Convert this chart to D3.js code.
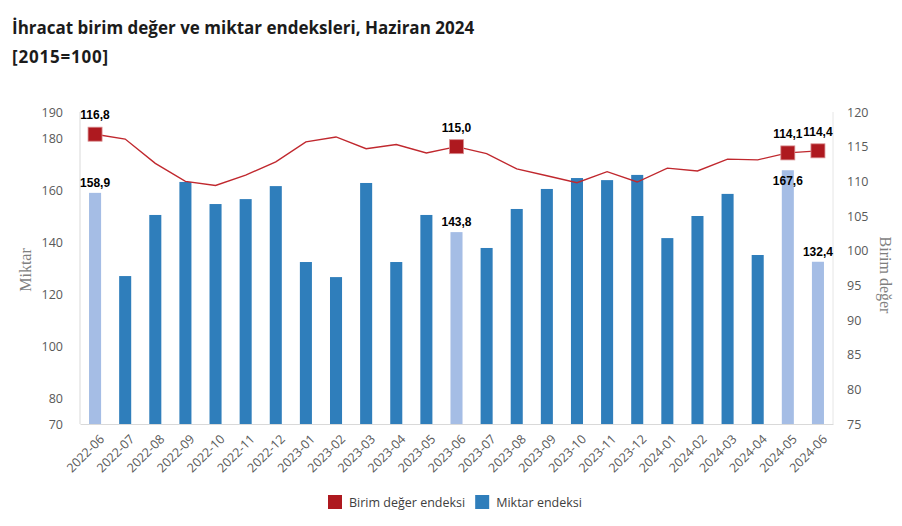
<!DOCTYPE html>
<html>
<head>
<meta charset="utf-8">
<script src="https://cdn.jsdelivr.net/npm/d3@7"></script>
<style>
    body { margin: 0; background: #fff; }
    svg { display: block; }
</style>
</head>
<body>
<div id="chart"></div>
<script>
// data
const months = ['2022-06', '2022-07', '2022-08', '2022-09', '2022-10', '2022-11', '2022-12',
    '2023-01', '2023-02', '2023-03', '2023-04', '2023-05', '2023-06', '2023-07', '2023-08',
    '2023-09', '2023-10', '2023-11', '2023-12', '2024-01', '2024-02', '2024-03', '2024-04',
    '2024-05', '2024-06'];
const miktar = [158.9, 126.9, 150.4, 163.1, 154.6, 156.5, 161.5, 132.3, 126.5, 162.7, 132.3,
    150.4, 143.8, 137.7, 152.7, 160.4, 164.6, 163.8, 165.8, 141.5, 150.0, 158.5, 135.0,
    167.6, 132.4];
const birimDeger = [116.8, 116.1, 112.6, 110.0, 109.4, 110.9, 112.8, 115.7, 116.4, 114.7, 115.3,
    114.1, 115.0, 114.0, 111.8, 110.8, 109.8, 111.4, 109.9, 111.9, 111.5, 113.2, 113.1,
    114.1, 114.4];
const highlighted = ['2022-06', '2023-06', '2024-05', '2024-06'];
const leftTicks = [70, 80, 100, 120, 140, 160, 180, 190];
const rightTicks = [75, 80, 85, 90, 95, 100, 105, 110, 115, 120];

const W = 902, H = 526;
const margin = {top: 112, right: 69, bottom: 102, left: 80};
const width = W - margin.left - margin.right;
const height = H - margin.top - margin.bottom;

const svg = d3.select('#chart').append('svg')
    .attr('width', W)
    .attr('height', H);

const fmt = v => v.toFixed(1).replace('.', ',');
const tickFont = '"Open Sans", "Noto Sans", sans-serif';

// title
svg.append('text')
    .attr('x', 12).attr('y', 34)
    .attr('font-family', tickFont)
    .attr('font-weight', 'bold')
    .attr('font-size', 17)
    .attr('fill', '#1b1b1b')
    .text('İhracat birim değer ve miktar endeksleri, Haziran 2024');
svg.append('text')
    .attr('x', 12).attr('y', 63)
    .attr('font-family', tickFont)
    .attr('font-weight', 'bold')
    .attr('font-size', 17)
    .attr('letter-spacing', 0.8)
    .attr('fill', '#1b1b1b')
    .text('[2015=100]');

const g = svg.append('g')
    .attr('transform', `translate(${margin.left}, ${margin.top})`);

const x = d3.scaleBand()
    .domain(months)
    .range([0, width])
    .paddingInner(0.6)
    .paddingOuter(0.3);
const yL = d3.scaleLinear().domain([70, 190]).range([height, 0]);
const yR = d3.scaleLinear().domain([75, 120]).range([height, 0]);
const cx = d => x(d) + x.bandwidth() / 2;

// frame lines
g.append('line')
    .attr('x1', 0).attr('x2', 0).attr('y1', 0).attr('y2', height)
    .attr('stroke', '#d9d9d9');
g.append('line')
    .attr('x1', width).attr('x2', width).attr('y1', 0).attr('y2', height)
    .attr('stroke', '#e6e6e6');

// left axis
const axL = g.append('g')
    .call(d3.axisLeft(yL).tickValues(leftTicks).tickSize(0).tickPadding(17));
axL.select('.domain').remove();
axL.selectAll('text')
    .attr('font-family', tickFont)
    .attr('font-size', 12.5)
    .attr('fill', '#595959');

// right axis
const axR = g.append('g')
    .attr('transform', `translate(${width}, 0)`)
    .call(d3.axisRight(yR).tickValues(rightTicks).tickSize(0).tickPadding(14));
axR.select('.domain').remove();
axR.selectAll('text')
    .attr('font-family', tickFont)
    .attr('font-size', 12.5)
    .attr('fill', '#595959');

// bottom axis
const axB = g.append('g')
    .attr('transform', `translate(0, ${height})`)
    .call(d3.axisBottom(x).tickSize(0));
axB.select('.domain').attr('stroke', '#d9d9d9');
axB.selectAll('text')
    .attr('font-family', tickFont)
    .attr('font-size', 12.5)
    .attr('fill', '#595959')
    .attr('text-anchor', 'end')
    .attr('y', 0)
    .attr('dy', 0)
    .attr('transform', 'translate(10, 16) rotate(-45)');

// axis titles
svg.append('text')
    .attr('transform', `translate(31, 270) rotate(-90)`)
    .attr('text-anchor', 'middle')
    .attr('font-family', '"Liberation Serif", "DejaVu Serif", serif')
    .attr('font-size', 16)
    .attr('fill', '#7f7f7f')
    .text('Miktar');
svg.append('text')
    .attr('transform', `translate(880, 275) rotate(90)`)
    .attr('text-anchor', 'middle')
    .attr('font-family', '"Liberation Serif", "DejaVu Serif", serif')
    .attr('font-size', 16)
    .attr('fill', '#7f7f7f')
    .text('Birim değer');

// bars
g.selectAll('rect.bar')
    .data(months)
    .enter()
    .append('rect')
    .attr('class', 'bar')
    .attr('x', d => x(d))
    .attr('y', (d, i) => yL(miktar[i]))
    .attr('width', x.bandwidth())
    .attr('height', (d, i) => height - yL(miktar[i]))
    .attr('fill', d => highlighted.includes(d) ? '#a5bde5' : '#2f7ebb');

// line
const line = d3.line()
    .x(d => cx(d[0]))
    .y(d => yR(d[1]));
g.append('path')
    .datum(months.map((m, i) => [m, birimDeger[i]]))
    .attr('fill', 'none')
    .attr('stroke', '#c0282e')
    .attr('stroke-width', 1.4)
    .attr('d', line);

// markers
const mSize = 14;
g.selectAll('rect.marker')
    .data(highlighted)
    .enter()
    .append('rect')
    .attr('class', 'marker')
    .attr('x', d => cx(d) - mSize / 2)
    .attr('y', d => yR(birimDeger[months.indexOf(d)]) - mSize / 2)
    .attr('width', mSize)
    .attr('height', mSize)
    .attr('fill', '#ae191f')
    .attr('stroke', '#d98d8f')
    .attr('stroke-width', 0.8);

// labels
const labelFont = '"Liberation Sans", Arial, sans-serif';
g.selectAll('text.lineLabel')
    .data(highlighted)
    .enter()
    .append('text')
    .attr('class', 'lineLabel')
    .attr('x', d => cx(d))
    .attr('y', d => yR(birimDeger[months.indexOf(d)]) - 15)
    .attr('text-anchor', 'middle')
    .attr('font-family', labelFont)
    .attr('font-weight', 'bold')
    .attr('font-size', 12)
    .attr('fill', '#000')
    .text(d => fmt(birimDeger[months.indexOf(d)]));

g.selectAll('text.barLabel')
    .data(highlighted)
    .enter()
    .append('text')
    .attr('class', 'barLabel')
    .attr('x', d => cx(d))
    .attr('y', d => {
        const v = miktar[months.indexOf(d)];
        // the 2024-05 label sits inside the bar, under the marker
        return d === '2024-05' ? yL(v) + 15 : yL(v) - 6;
    })
    .attr('text-anchor', 'middle')
    .attr('font-family', labelFont)
    .attr('font-weight', 'bold')
    .attr('font-size', 12)
    .attr('fill', '#000')
    .text(d => fmt(miktar[months.indexOf(d)]));

// legend
const legend = svg.append('g').attr('transform', 'translate(328, 495)');
const items = [
    {label: 'Birim değer endeksi', color: '#ae191f'},
    {label: 'Miktar endeksi', color: '#2f7ebb'}
];
let lx = 0;
items.forEach(it => {
    legend.append('rect')
        .attr('x', lx).attr('y', 0)
        .attr('width', 14).attr('height', 14)
        .attr('fill', it.color);
    const t = legend.append('text')
        .attr('x', lx + 21).attr('y', 11.5)
        .attr('font-family', tickFont)
        .attr('font-size', 12.5)
        .attr('fill', '#404040')
        .text(it.label);
    lx += 21 + t.node().getComputedTextLength() + 10;
});
</script>
</body>
</html>
